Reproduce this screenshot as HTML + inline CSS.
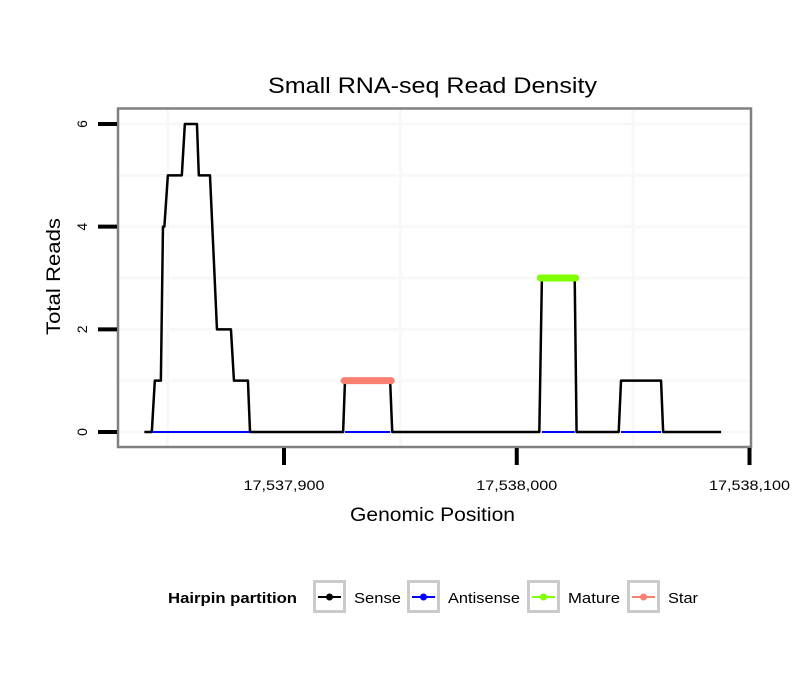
<!DOCTYPE html>
<html><head><meta charset="utf-8"><style>
body{margin:0;background:#fff;}
svg{display:block;font-family:"Liberation Sans",sans-serif;}
</style></head><body>
<svg width="810" height="690" viewBox="0 0 810 690">
<rect width="810" height="690" fill="#fff"/>
<text x="268" y="93" font-size="22" textLength="329" lengthAdjust="spacingAndGlyphs">Small RNA-seq Read Density</text>
<g id="grid"></g>
<g id="marks"></g>
<rect x="118" y="108.5" width="633" height="338.5" fill="none" stroke="#808080" stroke-width="2.5"/>
<g id="axes"></g>
<text x="350" y="521" font-size="19" textLength="165" lengthAdjust="spacingAndGlyphs">Genomic Position</text>
<text transform="translate(60,335) rotate(-90)" font-size="19" textLength="117" lengthAdjust="spacingAndGlyphs">Total Reads</text>
<g>
<text x="168" y="603" font-size="15" font-weight="bold" textLength="129" lengthAdjust="spacingAndGlyphs">Hairpin partition</text>
<g><rect x="314.5" y="581.5" width="30" height="30" fill="#fff" stroke="#cbcbcb" stroke-width="3"/><line x1="318" y1="597" x2="341" y2="597" stroke="#000" stroke-width="2"/><circle cx="329.5" cy="597" r="3.5" fill="#000"/><text x="354" y="603" font-size="15" textLength="47" lengthAdjust="spacingAndGlyphs">Sense</text></g>
<g><rect x="408.5" y="581.5" width="30" height="30" fill="#fff" stroke="#cbcbcb" stroke-width="3"/><line x1="412" y1="597" x2="435" y2="597" stroke="#0000ff" stroke-width="2"/><circle cx="423.5" cy="597" r="3.5" fill="#0000ff"/><text x="448" y="603" font-size="15" textLength="72" lengthAdjust="spacingAndGlyphs">Antisense</text></g>
<g><rect x="528.5" y="581.5" width="30" height="30" fill="#fff" stroke="#cbcbcb" stroke-width="3"/><line x1="532" y1="597" x2="555" y2="597" stroke="#7fff00" stroke-width="2"/><circle cx="543.5" cy="597" r="3.5" fill="#7fff00"/><text x="568" y="603" font-size="15" textLength="52" lengthAdjust="spacingAndGlyphs">Mature</text></g>
<g><rect x="628.5" y="581.5" width="30" height="30" fill="#fff" stroke="#cbcbcb" stroke-width="3"/><line x1="632" y1="597" x2="655" y2="597" stroke="#fa8072" stroke-width="2"/><circle cx="643.5" cy="597" r="3.5" fill="#fa8072"/><text x="668" y="603" font-size="15" textLength="30" lengthAdjust="spacingAndGlyphs">Star</text></g>
</g>
</svg>
<script>
const BASE = 17537900;
const senseX = [-60,-56.8,-55.5,-52.9,-52,-51.4,-49.9,-43.9,-42.6,-37.4,-36.6,-31.8,-28.8,-22.8,-21.5,-15.5,-14.6,25.4,26.2,45.6,46.5,109.7,110.8,124.9,125.7,143.8,144.8,162,162.9,187.8];
const senseY = [0,0,1,1,4,4,5,5,6,6,5,5,2,2,1,1,0,0,1,1,0,0,3,3,0,0,1,1,0,0];
const antisenseStart = [-56.8,26.2,110.8,144.8];
const antisenseEnd = [-14.6,45.6,124.9,162];
const matureStart = [109.7], matureEnd = [125.7], matureY = [3];
const starStart = [25.4], starEnd = [46.5], starY = [1];
const yTicks = [0,2,4,6];
const xTicks = [17537900,17538000,17538100];
const xTickLabels = ["17,537,900","17,538,000","17,538,100"];
const gridX = [17537850,17537950,17538050];
const gridY = [0,1,2,3,4,5,6];

const NS="http://www.w3.org/2000/svg";
const xs = p => 284 + (p) * 2.3275;
const xa = v => xs(v - BASE);
const ys = v => 432 - v * 51.33;
function mk(tag, attrs, parent){const e=document.createElementNS(NS,tag);for(const k in attrs)e.setAttribute(k,attrs[k]);parent.appendChild(e);return e;}
const grid=document.getElementById('grid'), marks=document.getElementById('marks'), axes=document.getElementById('axes');
gridX.forEach(g=>{const l=mk('line',{x1:xa(g),x2:xa(g),y1:110,y2:446,stroke:'#f8f8f8','stroke-width':3},grid);

});
gridY.forEach(g=>{const l=mk('line',{x1:119,x2:750,y1:ys(g),y2:ys(g),stroke:'#f8f8f8','stroke-width':3},grid);

});
const pts=senseX.map((x,i)=>xs(x)+','+ys(senseY[i])).join(' ');
const sl=mk('polyline',{points:pts,fill:'none',stroke:'#000','stroke-width':2.5,'stroke-linejoin':'round'},marks);


antisenseStart.forEach((s,i)=>{const l=mk('line',{x1:xs(s),x2:xs(antisenseEnd[i]),y1:ys(0),y2:ys(0),stroke:'#0000ff','stroke-width':2},marks);

});
matureStart.forEach((s,i)=>{const l=mk('line',{x1:xs(s)+1,x2:xs(matureEnd[i])-1,y1:ys(matureY[i]),y2:ys(matureY[i]),stroke:'#7fff00','stroke-width':7,'stroke-linecap':'round'},marks);

});
starStart.forEach((s,i)=>{const l=mk('line',{x1:xs(s)+1,x2:xs(starEnd[i])-1,y1:ys(starY[i]),y2:ys(starY[i]),stroke:'#fa8072','stroke-width':7,'stroke-linecap':'round'},marks);

});
yTicks.forEach(t=>{const l=mk('line',{x1:98,x2:117,y1:ys(t),y2:ys(t),stroke:'#000','stroke-width':4},axes);


const tx=mk('text',{transform:`translate(87,${ys(t)}) rotate(-90)`,'font-size':14,'text-anchor':'middle'},axes);tx.textContent=t;

});
xTicks.forEach((t,i)=>{const l=mk('line',{x1:xa(t),x2:xa(t),y1:448,y2:465,stroke:'#000','stroke-width':4},axes);


const tx=mk('text',{x:xa(t)-40.5,y:490,'font-size':14,textLength:81,lengthAdjust:'spacingAndGlyphs'},axes);tx.textContent=xTickLabels[i];

});
</script>
</body></html>
